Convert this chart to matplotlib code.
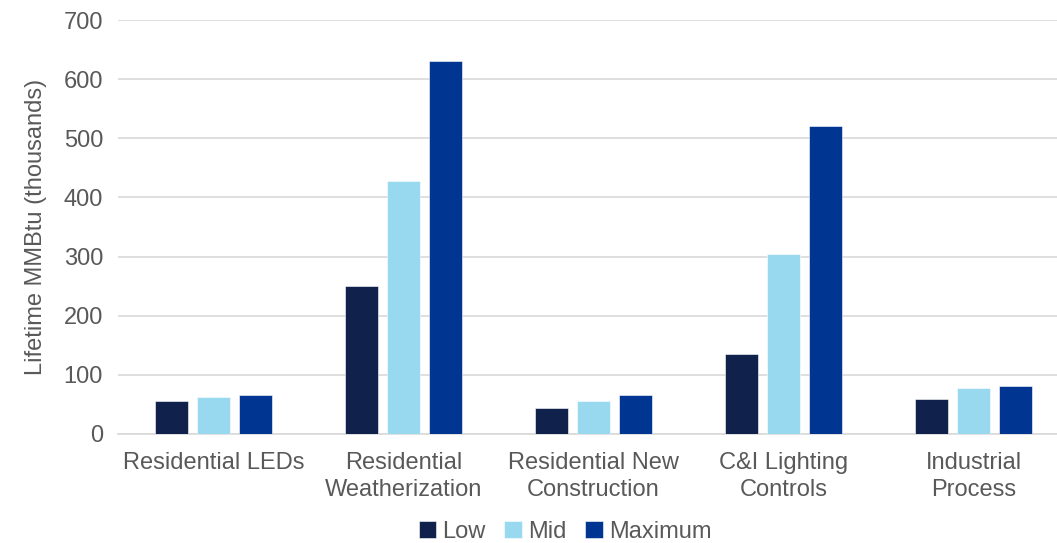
import numpy as np
import matplotlib

matplotlib.use("Agg")
import matplotlib.pyplot as plt

plt.rcParams["font.family"] = ["Liberation Sans", "DejaVu Sans"]

# ── Data ──────────────────────────────────────────────────────────────────────
categories = [
    "Residential LEDs",
    "Residential\nWeatherization",
    "Residential New\nConstruction",
    "C&I Lighting\nControls",
    "Industrial\nProcess",
]
low = [56, 250, 44, 135, 59]
mid = [63, 428, 56, 304, 78]
maximum = [66, 631, 66, 521, 81]

series = [("Low", low, "#10214b"), ("Mid", mid, "#99d9f0"), ("Maximum", maximum, "#003591")]
text_color = "#595959"
fs = 17

fig = plt.figure(figsize=(10.57, 5.43), dpi=100)
ax = fig.add_axes([0.112, 0.201, 0.899, 0.762])

x = np.arange(len(categories))
width = 0.175
gap = 0.045
for i, (name, vals, color) in enumerate(series):
    offset = (i - 1) * (width + gap)
    ax.bar(x + offset, vals, width, color=color, label=name,
           edgecolor="#ffffff", linewidth=0.4, zorder=3)

ax.set_ylim(0, 700)
ax.set_yticks(range(0, 701, 100))
ax.set_xlim(-0.5, len(categories) - 0.5)
ax.set_xticks(x)
ax.set_xticklabels(categories, fontsize=fs, color=text_color, linespacing=1.3)
ax.tick_params(axis="y", labelsize=fs, labelcolor=text_color, length=0, pad=11)
ax.tick_params(axis="x", length=0, pad=13)
ax.yaxis.grid(True, color="#d9d9d9", linewidth=1.2, zorder=0)
ax.set_axisbelow(True)
for s in ["top", "right", "left"]:
    ax.spines[s].set_visible(False)
ax.spines["bottom"].set_color("#d9d9d9")
ax.spines["bottom"].set_linewidth(1.2)

ax.set_ylabel("Lifetime MMBtu (thousands)", fontsize=fs, color=text_color, labelpad=12)

fig.legend(loc="center", bbox_to_anchor=(565 / 1057, 1 - 532 / 543), ncol=3,
           frameon=False, fontsize=fs, labelcolor=text_color, handlelength=0.75,
           handleheight=0.75, handletextpad=0.25, columnspacing=0.8,
           borderpad=0, borderaxespad=0)

plt.savefig("out.png", dpi=100)
